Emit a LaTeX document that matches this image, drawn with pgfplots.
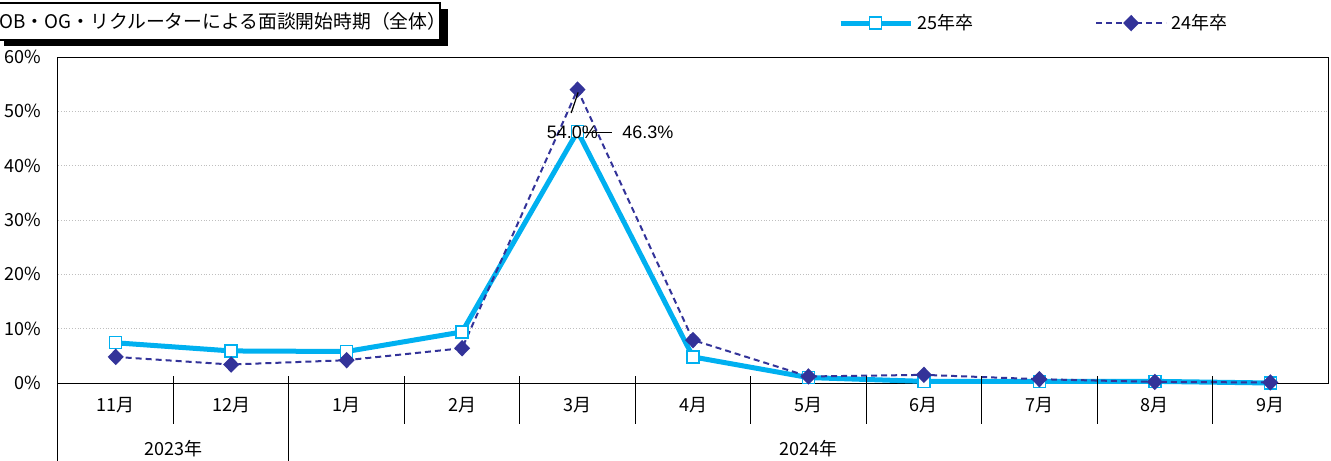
\documentclass[border=0pt]{standalone}
\usepackage{fontspec}
\setmainfont{Noto Sans CJK JP}
\newfontfamily\lab{Liberation Sans}
\usepackage{pgfplots}
\pgfplotsset{compat=1.18}
\definecolor{c25}{RGB}{0,176,240}
\definecolor{c24}{RGB}{51,51,153}
\begin{document}
\begin{tikzpicture}[font=\fontsize{9}{11}\selectfont]
\path[use as bounding box] (0,0) rectangle (665.5pt,230pt);
\clip (0,0) rectangle (665.5pt,230pt);
% title box with shadow
\fill[black] (2pt,207pt) rectangle (224pt,225.5pt);
\draw[fill=white, line width=0.8pt] (-1pt,210pt) rectangle (220pt,228.5pt);
\node[font=\fontsize{9.4}{11}\selectfont, anchor=west, inner sep=0pt] at (-0.5pt,219.3pt) {OB・OG・リクルーターによる面談開始時期（全体）};
\begin{axis}[
  at={(29pt,38.5pt)}, anchor=south west,
  width=635pt, height=163pt, scale only axis,
  xmin=-0.5, xmax=10.5, ymin=0, ymax=60,
  xtick=\empty, ytick={0,10,...,60},
  yticklabel={\pgfmathprintnumber{\tick}\%},
  /pgf/number format/assume math mode=true,
  yticklabel style={xshift=-5pt},
  ymajorgrids, grid style={densely dotted, gray!50},
  major tick length=0pt,
  axis line style={line width=0.5pt},
  clip=false,
  legend columns=2,
  legend style={at={(0.614,1.104)}, anchor=west, draw=none, fill=none, inner sep=0pt,
    font=\fontsize{9}{11}\selectfont,
    /tikz/every even column/.append style={column sep=59pt}},
  legend image code/.code={\draw[mark repeat=2,mark phase=2] plot coordinates {(0pt,0pt) (17.5pt,0pt) (35pt,0pt)};},
]
\addplot[c25, line width=2.5pt, mark=square*, mark size=3pt,
  mark options={fill=white, draw=c25, line width=0.7pt, solid}]
  coordinates {(0,7.4) (1,5.9) (2,5.8) (3,9.4) (4,46.3) (5,4.8) (6,1.0) (7,0.3) (8,0.3) (9,0.3) (10,0.0)};
\addlegendentry{25年卒}
\addplot[c24, line width=1pt, dash pattern=on 3pt off 2pt, mark=diamond*, mark size=3.4pt,
  mark options={fill=c24, draw=c24, solid, xscale=1.3}]
  coordinates {(0,4.8) (1,3.4) (2,4.2) (3,6.4) (4,54.0) (5,7.9) (6,1.2) (7,1.5) (8,0.7) (9,0.2) (10,0.1)};
\addlegendentry{24年卒}
% anchors for data labels
\coordinate (a1) at (axis cs:4.005,53.5);
\coordinate (a2) at (axis cs:3.945,49.7);
\coordinate (b1) at (axis cs:4.06,46.1);
\coordinate (b2) at (axis cs:4.3,46.1);
\coordinate (l54) at (axis cs:3.955,46.2);
\coordinate (l46) at (axis cs:4.61,46.2);
% category separators
\pgfplotsinvokeforeach{0.5,2.5,3.5,4.5,5.5,6.5,7.5,8.5,9.5}{
  \draw[line width=0.5pt] ([yshift=3.5pt]axis cs:#1,0) -- ([yshift=-20.5pt]axis cs:#1,0);
}
\draw[line width=0.5pt] ([yshift=3.5pt]axis cs:1.5,0) -- ([yshift=-40pt]axis cs:1.5,0);
\draw[line width=0.5pt] (axis cs:-0.5,0) -- ([yshift=-40pt]axis cs:-0.5,0);
% month labels
\node at ([yshift=-11pt]axis cs:0,0) {11月};
\node at ([yshift=-11pt]axis cs:1,0) {12月};
\node at ([yshift=-11pt]axis cs:2,0) {1月};
\node at ([yshift=-11pt]axis cs:3,0) {2月};
\node at ([yshift=-11pt]axis cs:4,0) {3月};
\node at ([yshift=-11pt]axis cs:5,0) {4月};
\node at ([yshift=-11pt]axis cs:6,0) {5月};
\node at ([yshift=-11pt]axis cs:7,0) {6月};
\node at ([yshift=-11pt]axis cs:8,0) {7月};
\node at ([yshift=-11pt]axis cs:9,0) {8月};
\node at ([yshift=-11pt]axis cs:10,0) {9月};
\node at ([yshift=-33pt]axis cs:0.5,0) {2023年};
\node at ([yshift=-33pt]axis cs:6,0) {2024年};
\end{axis}
\draw[line width=0.6pt] (a1) -- (a2);
\draw[line width=0.6pt] (b1) -- (b2);
\node[font=\lab\fontsize{9}{11}\selectfont] at (l54) {54.0\%};
\node[font=\lab\fontsize{9}{11}\selectfont] at (l46) {46.3\%};
\end{tikzpicture}
\end{document}
